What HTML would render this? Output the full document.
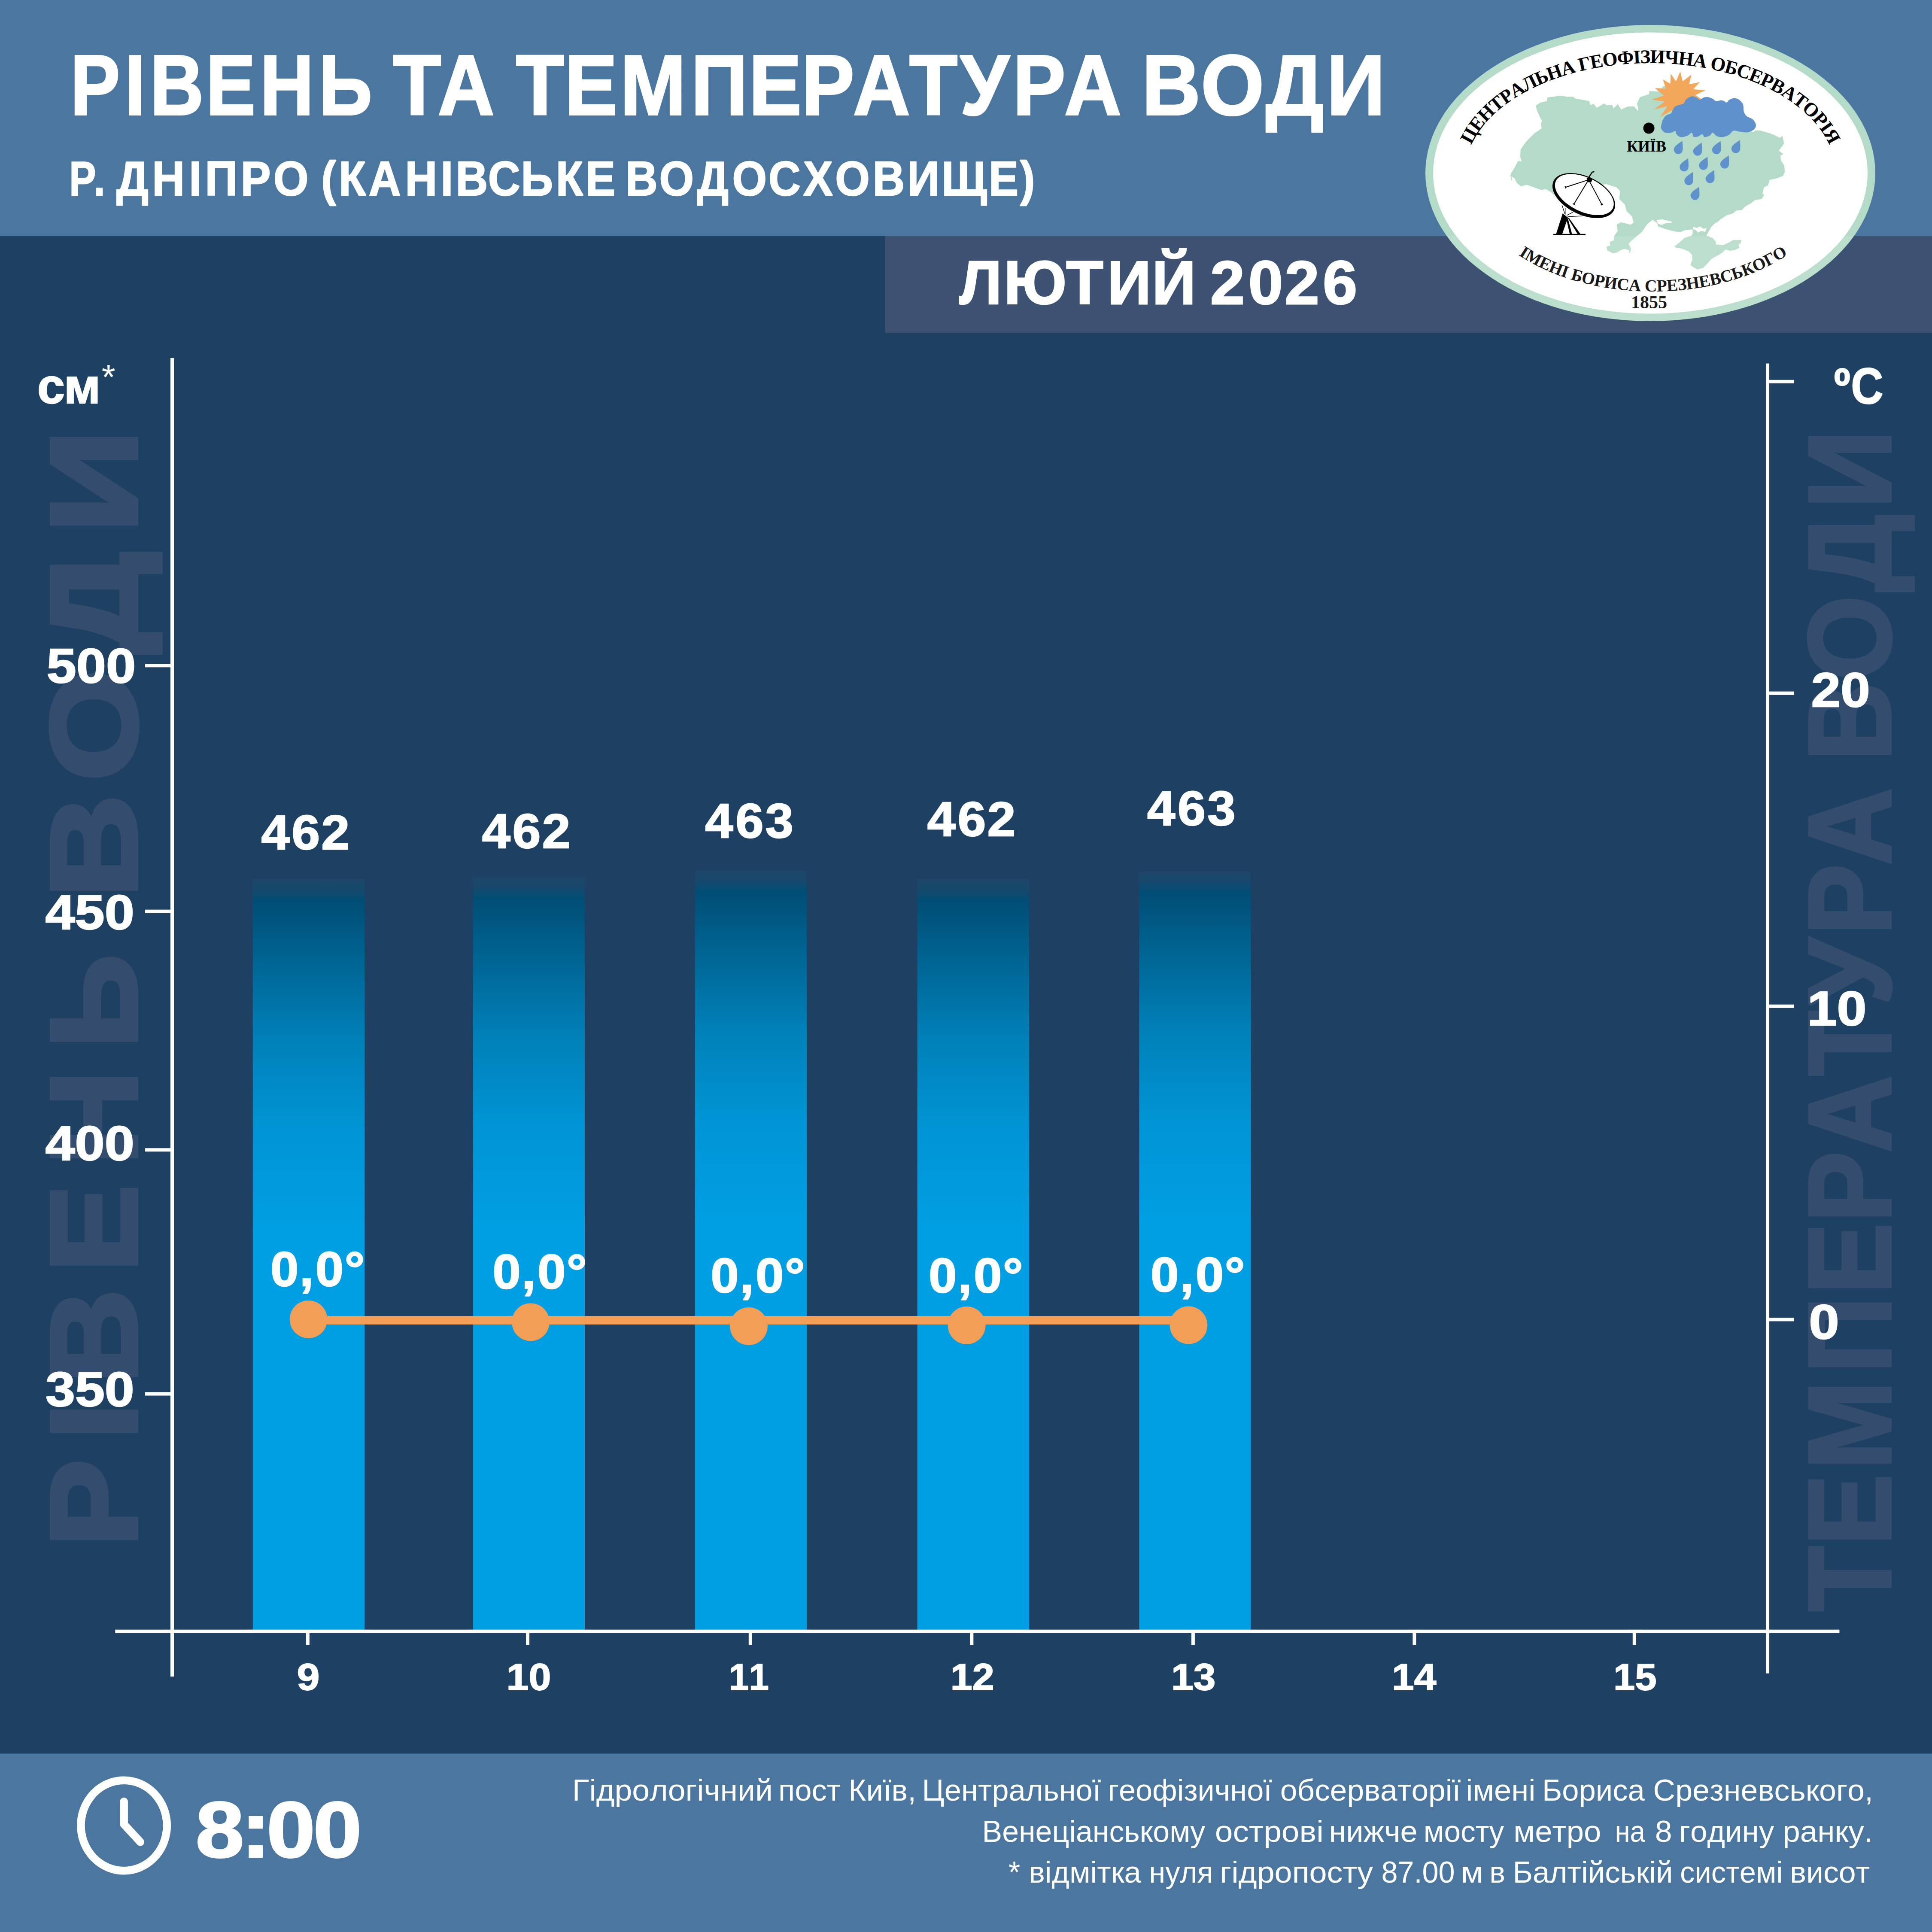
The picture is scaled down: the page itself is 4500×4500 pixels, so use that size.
<!DOCTYPE html>
<html lang="uk"><head><meta charset="utf-8"><title>Рівень та температура води</title>
<style>html,body{margin:0;padding:0;background:#1e4062}svg{display:block}text{font-kerning:none;white-space:pre}</style>
</head><body>
<svg width="4500" height="4500" viewBox="0 0 4500 4500">
<rect x="0" y="0" width="4500" height="4500" fill="#1e4062"/>
<rect x="0" y="0" width="4500" height="550" fill="#4a76a0"/>
<rect x="2062" y="550" width="2438" height="225" fill="#3d5173"/>
<rect x="0" y="4084.5" width="4500" height="415.5" fill="#4a76a0"/>
<text transform="translate(317.00 0) rotate(-90) translate(0 0.00) scale(1.0678 1)" x="-3373.58 -3139.98 -3018.02 -2774.69 -2540.86 -2286.63" font-size="284.89" font-family="Liberation Sans, sans-serif" font-weight="700" fill="#344c6e" stroke="#344c6e" stroke-width="10.00" stroke-linejoin="miter" stroke-miterlimit="2">РІВЕНЬ</text>
<text transform="translate(317.00 0) rotate(-90) translate(0 0.00) scale(1.1696 1)" x="-1788.18 -1555.40 -1301.52 -1060.94" font-size="284.89" font-family="Liberation Sans, sans-serif" font-weight="700" fill="#344c6e" stroke="#344c6e" stroke-width="10.00" stroke-linejoin="miter" stroke-miterlimit="2">ВОДИ</text>
<text transform="translate(4402.50 0) rotate(-90) translate(0 0.00) scale(0.9070 1)" x="-4137.81 -3968.10 -3773.44 -3525.94 -3322.85 -3138.90 -2959.15 -2762.48 -2580.43 -2400.82 -2220.80" font-size="272.53" font-family="Liberation Sans, sans-serif" font-weight="700" fill="#344c6e" stroke="#344c6e" stroke-width="7.00" stroke-linejoin="miter" stroke-miterlimit="2">ТЕМПЕРАТУРА</text>
<text transform="translate(4402.50 0) rotate(-90) translate(0 0.00) scale(0.9277 1)" x="-1910.42 -1707.60 -1485.98 -1276.30" font-size="272.53" font-family="Liberation Sans, sans-serif" font-weight="700" fill="#344c6e" stroke="#344c6e" stroke-width="7.00" stroke-linejoin="miter" stroke-miterlimit="2">ВОДИ</text>
<defs><linearGradient id="bg" gradientUnits="userSpaceOnUse" x1="0" y1="0" x2="0" y2="820"><stop offset="0" stop-color="#1e4669"/><stop offset="0.03" stop-color="#16486c"/><stop offset="0.0634" stop-color="#004e76"/><stop offset="0.2" stop-color="#00608d"/><stop offset="0.45" stop-color="#0080b8"/><stop offset="0.7" stop-color="#0094d4"/><stop offset="1" stop-color="#009fe3"/></linearGradient></defs>
<g transform="translate(0 2047.0)"><rect x="588.8" y="0" width="260.2" height="820" fill="url(#bg)"/></g>
<rect x="588.8" y="2866.0" width="260.2" height="930.0" fill="#009fe3"/>
<g transform="translate(0 2042.0)"><rect x="1101.8" y="0" width="260.2" height="820" fill="url(#bg)"/></g>
<rect x="1101.8" y="2861.0" width="260.2" height="935.0" fill="#009fe3"/>
<g transform="translate(0 2027.5)"><rect x="1618.6" y="0" width="260.3" height="820" fill="url(#bg)"/></g>
<rect x="1618.6" y="2846.5" width="260.3" height="949.5" fill="#009fe3"/>
<g transform="translate(0 2047.0)"><rect x="2136.6" y="0" width="260.3" height="820" fill="url(#bg)"/></g>
<rect x="2136.6" y="2866.0" width="260.3" height="930.0" fill="#009fe3"/>
<g transform="translate(0 2029.0)"><rect x="2653.4" y="0" width="259.6" height="820" fill="url(#bg)"/></g>
<rect x="2653.4" y="2848.0" width="259.6" height="948.0" fill="#009fe3"/>
<rect x="397" y="834" width="8" height="3071" fill="#fff"/>
<rect x="4113" y="846.6" width="8" height="3051" fill="#fff"/>
<rect x="268.3" y="3795.7" width="4016.1" height="8" fill="#fff"/>
<rect x="338" y="1546.3" width="60" height="8" fill="#fff"/>
<rect x="338" y="2118.7" width="60" height="8" fill="#fff"/>
<rect x="338" y="2674.3" width="60" height="8" fill="#fff"/>
<rect x="338" y="3242.6" width="60" height="8" fill="#fff"/>
<rect x="4120" y="884.8" width="58.6" height="8" fill="#fff"/>
<rect x="4120" y="1610.6" width="58.6" height="8" fill="#fff"/>
<rect x="4120" y="2339.7" width="58.6" height="8" fill="#fff"/>
<rect x="4120" y="3069.5" width="58.6" height="8" fill="#fff"/>
<rect x="712.8" y="3796" width="8" height="36" fill="#fff"/>
<rect x="1225.0" y="3796" width="8" height="36" fill="#fff"/>
<rect x="1743.8" y="3796" width="8" height="36" fill="#fff"/>
<rect x="2259.3" y="3796" width="8" height="36" fill="#fff"/>
<rect x="2774.9" y="3796" width="8" height="36" fill="#fff"/>
<rect x="3290.4" y="3796" width="8" height="36" fill="#fff"/>
<rect x="3802.8" y="3796" width="8" height="36" fill="#fff"/>
<rect x="718" y="3065" width="2050" height="20" fill="#f29e57"/>
<circle cx="718.6" cy="3073.0" r="44" fill="#f29e57"/>
<circle cx="1236.0" cy="3079.5" r="44" fill="#f29e57"/>
<circle cx="1744.0" cy="3089.0" r="44" fill="#f29e57"/>
<circle cx="2251.6" cy="3087.0" r="44" fill="#f29e57"/>
<circle cx="2768.4" cy="3086.5" r="44" fill="#f29e57"/>
<text transform="translate(0 267.00) scale(0.8699 1)" x="188.61 333.85 401.65 551.45 696.29 853.55" font-size="198.84" font-family="Liberation Sans, sans-serif" font-weight="700" fill="#fff" stroke="#fff" stroke-width="4.00" stroke-linejoin="miter" stroke-miterlimit="2">РІВЕНЬ</text>
<text transform="translate(0 267.00) scale(0.9180 1)" x="997.61 1110.97" font-size="198.84" font-family="Liberation Sans, sans-serif" font-weight="700" fill="#fff" stroke="#fff" stroke-width="4.00" stroke-linejoin="miter" stroke-miterlimit="2">ТА</text>
<text transform="translate(0 267.00) scale(0.9239 1)" x="1300.74 1423.62 1563.53 1742.14 1888.00 2021.13 2150.65 2292.46 2420.05 2553.52 2683.06" font-size="198.84" font-family="Liberation Sans, sans-serif" font-weight="700" fill="#fff" stroke="#fff" stroke-width="4.00" stroke-linejoin="miter" stroke-miterlimit="2">ТЕМПЕРАТУРА</text>
<text transform="translate(0 267.00) scale(0.9509 1)" x="2797.16 2941.79 3100.31 3249.86" font-size="198.84" font-family="Liberation Sans, sans-serif" font-weight="700" fill="#fff" stroke="#fff" stroke-width="4.00" stroke-linejoin="miter" stroke-miterlimit="2">ВОДИ</text>
<text transform="translate(0 455.30) scale(0.8239 1)" x="195.59 265.56" font-size="113.37" font-family="Liberation Sans, sans-serif" font-weight="700" fill="#fff" stroke="#fff" stroke-width="2.40" stroke-linejoin="miter" stroke-miterlimit="2">Р.</text>
<text transform="translate(0 455.30) scale(0.9278 1)" x="292.21 381.77 474.41 514.76 604.08 686.42" font-size="113.37" font-family="Liberation Sans, sans-serif" font-weight="700" fill="#fff" stroke="#fff" stroke-width="2.40" stroke-linejoin="miter" stroke-miterlimit="2">ДНІПРО</text>
<text transform="translate(0 455.30) scale(0.9145 1)" x="818.27 862.77 938.94 1031.74 1122.49 1160.66 1243.05 1327.03 1415.75 1491.53" font-size="113.37" font-family="Liberation Sans, sans-serif" font-weight="700" fill="#fff" stroke="#fff" stroke-width="2.40" stroke-linejoin="miter" stroke-miterlimit="2">(КАНІВСЬКЕ</text>
<text transform="translate(0 455.30) scale(0.9133 1)" x="1595.32 1681.34 1777.38 1867.41 1959.90 2048.34 2130.02 2225.59 2314.09 2401.59 2521.59 2601.62" font-size="113.37" font-family="Liberation Sans, sans-serif" font-weight="700" fill="#fff" stroke="#fff" stroke-width="2.40" stroke-linejoin="miter" stroke-miterlimit="2">ВОДОСХОВИЩЕ)</text>
<text transform="translate(0 708.10) scale(0.9938 1)" x="2248.04 2352.84 2498.81 2595.27 2700.30" font-size="142.44" font-family="Liberation Sans, sans-serif" font-weight="700" fill="#fff" stroke="#fff" stroke-width="3.00" stroke-linejoin="miter" stroke-miterlimit="2">ЛЮТИЙ</text>
<text transform="translate(0 708.10) scale(1.0145 1)" x="2778.53 2866.27 2949.83 3036.93" font-size="142.44" font-family="Liberation Sans, sans-serif" font-weight="700" fill="#fff" stroke="#fff" stroke-width="3.00" stroke-linejoin="miter" stroke-miterlimit="2">2026</text>
<text transform="translate(0 938.80) scale(1.0086 1)" x="86.04 147.60" font-size="114.70" font-family="Liberation Sans, sans-serif" font-weight="700" fill="#fff" stroke="#fff" stroke-width="2.40" stroke-linejoin="miter" stroke-miterlimit="2">см</text>
<text transform="translate(236.67 905.70) scale(1.0155 1)" font-size="81.00" font-family="Liberation Sans, sans-serif" font-weight="400" fill="#fff">*</text>
<text transform="translate(108.49 1589.80) scale(1.1009 1)" font-size="113.13" font-family="Liberation Sans, sans-serif" font-weight="700" fill="#fff" stroke="#fff" stroke-width="2.40" stroke-linejoin="miter" stroke-miterlimit="2">500</text>
<text transform="translate(105.44 2163.80) scale(1.0984 1)" font-size="113.13" font-family="Liberation Sans, sans-serif" font-weight="700" fill="#fff" stroke="#fff" stroke-width="2.40" stroke-linejoin="miter" stroke-miterlimit="2">450</text>
<text transform="translate(105.44 2702.20) scale(1.0984 1)" font-size="113.13" font-family="Liberation Sans, sans-serif" font-weight="700" fill="#fff" stroke="#fff" stroke-width="2.40" stroke-linejoin="miter" stroke-miterlimit="2">400</text>
<text transform="translate(105.97 3274.80) scale(1.0956 1)" font-size="113.13" font-family="Liberation Sans, sans-serif" font-weight="700" fill="#fff" stroke="#fff" stroke-width="2.40" stroke-linejoin="miter" stroke-miterlimit="2">350</text>
<text transform="translate(0 939.80) scale(0.8831 1)" x="4836.84 4882.07" font-size="118.00" font-family="Liberation Sans, sans-serif" font-weight="700" fill="#fff" stroke="#fff" stroke-width="2.20" stroke-linejoin="miter" stroke-miterlimit="2">ºC</text>
<text transform="translate(4218.53 1646.00) scale(1.0904 1)" font-size="113.13" font-family="Liberation Sans, sans-serif" font-weight="700" fill="#fff" stroke="#fff" stroke-width="2.40" stroke-linejoin="miter" stroke-miterlimit="2">20</text>
<text transform="translate(4209.50 2387.80) scale(1.0972 1)" font-size="113.13" font-family="Liberation Sans, sans-serif" font-weight="700" fill="#fff" stroke="#fff" stroke-width="2.40" stroke-linejoin="miter" stroke-miterlimit="2">10</text>
<text transform="translate(4213.33 3117.50) scale(1.1209 1)" font-size="113.13" font-family="Liberation Sans, sans-serif" font-weight="700" fill="#fff" stroke="#fff" stroke-width="2.40" stroke-linejoin="miter" stroke-miterlimit="2">0</text>
<text transform="translate(0 1978.30) scale(1.0488 1)" x="580.13 647.60 713.51" font-size="113.13" font-family="Liberation Sans, sans-serif" font-weight="700" fill="#fff" stroke="#fff" stroke-width="2.40" stroke-linejoin="miter" stroke-miterlimit="2">462</text>
<text transform="translate(0 1975.30) scale(1.0488 1)" x="1070.48 1137.95 1203.86" font-size="113.13" font-family="Liberation Sans, sans-serif" font-weight="700" fill="#fff" stroke="#fff" stroke-width="2.40" stroke-linejoin="miter" stroke-miterlimit="2">462</text>
<text transform="translate(0 1951.30) scale(1.0385 1)" x="1581.50 1649.67 1716.50" font-size="113.13" font-family="Liberation Sans, sans-serif" font-weight="700" fill="#fff" stroke="#fff" stroke-width="2.40" stroke-linejoin="miter" stroke-miterlimit="2">463</text>
<text transform="translate(0 1947.30) scale(1.0488 1)" x="2059.19 2126.65 2192.57" font-size="113.13" font-family="Liberation Sans, sans-serif" font-weight="700" fill="#fff" stroke="#fff" stroke-width="2.40" stroke-linejoin="miter" stroke-miterlimit="2">462</text>
<text transform="translate(0 1922.30) scale(1.0385 1)" x="2572.96 2641.13 2707.96" font-size="113.13" font-family="Liberation Sans, sans-serif" font-weight="700" fill="#fff" stroke="#fff" stroke-width="2.40" stroke-linejoin="miter" stroke-miterlimit="2">463</text>
<text transform="translate(0 2995.30) scale(1.0402 1)" x="605.55 670.83 706.27 771.40" font-size="113.13" font-family="Liberation Sans, sans-serif" font-weight="700" fill="#fff" stroke="#fff" stroke-width="2.40" stroke-linejoin="miter" stroke-miterlimit="2">0,0°</text>
<text transform="translate(0 3001.30) scale(1.0402 1)" x="1102.84 1168.11 1203.55 1268.69" font-size="113.13" font-family="Liberation Sans, sans-serif" font-weight="700" fill="#fff" stroke="#fff" stroke-width="2.40" stroke-linejoin="miter" stroke-miterlimit="2">0,0°</text>
<text transform="translate(0 3009.80) scale(1.0402 1)" x="1591.18 1656.46 1691.90 1757.03" font-size="113.13" font-family="Liberation Sans, sans-serif" font-weight="700" fill="#fff" stroke="#fff" stroke-width="2.40" stroke-linejoin="miter" stroke-miterlimit="2">0,0°</text>
<text transform="translate(0 3009.80) scale(1.0402 1)" x="2079.53 2144.80 2180.24 2245.38" font-size="113.13" font-family="Liberation Sans, sans-serif" font-weight="700" fill="#fff" stroke="#fff" stroke-width="2.40" stroke-linejoin="miter" stroke-miterlimit="2">0,0°</text>
<text transform="translate(0 3007.80) scale(1.0402 1)" x="2576.52 2641.80 2677.24 2742.37" font-size="113.13" font-family="Liberation Sans, sans-serif" font-weight="700" fill="#fff" stroke="#fff" stroke-width="2.40" stroke-linejoin="miter" stroke-miterlimit="2">0,0°</text>
<text transform="translate(691.48 3936.10) scale(1.0952 1)" font-size="87.15" font-family="Liberation Sans, sans-serif" font-weight="700" fill="#fff" stroke="#fff" stroke-width="1.80" stroke-linejoin="miter" stroke-miterlimit="2">9</text>
<text transform="translate(1179.47 3936.10) scale(1.0739 1)" font-size="87.15" font-family="Liberation Sans, sans-serif" font-weight="700" fill="#fff" stroke="#fff" stroke-width="1.80" stroke-linejoin="miter" stroke-miterlimit="2">10</text>
<text transform="translate(1698.11 3936.10) scale(0.9569 1)" font-size="87.15" font-family="Liberation Sans, sans-serif" font-weight="700" fill="#fff" stroke="#fff" stroke-width="1.80" stroke-linejoin="miter" stroke-miterlimit="2">11</text>
<text transform="translate(2213.77 3936.10) scale(1.0518 1)" font-size="87.15" font-family="Liberation Sans, sans-serif" font-weight="700" fill="#fff" stroke="#fff" stroke-width="1.80" stroke-linejoin="miter" stroke-miterlimit="2">12</text>
<text transform="translate(2728.11 3936.10) scale(1.0655 1)" font-size="87.15" font-family="Liberation Sans, sans-serif" font-weight="700" fill="#fff" stroke="#fff" stroke-width="1.80" stroke-linejoin="miter" stroke-miterlimit="2">13</text>
<text transform="translate(3242.10 3936.10) scale(1.0671 1)" font-size="87.15" font-family="Liberation Sans, sans-serif" font-weight="700" fill="#fff" stroke="#fff" stroke-width="1.80" stroke-linejoin="miter" stroke-miterlimit="2">14</text>
<text transform="translate(3757.93 3936.10) scale(1.0383 1)" font-size="87.15" font-family="Liberation Sans, sans-serif" font-weight="700" fill="#fff" stroke="#fff" stroke-width="1.80" stroke-linejoin="miter" stroke-miterlimit="2">15</text>
<ellipse cx="288.6" cy="4252" rx="100.2" ry="105.2" fill="none" stroke="#fff" stroke-width="18.6"/>
<path d="M288.6 4196 L288.6 4249 L327 4290.5" fill="none" stroke="#fff" stroke-width="18.6" stroke-linecap="round" stroke-linejoin="round"/>
<text transform="translate(0 4325.10) scale(1.1002 1)" x="414.15 510.76 564.76 663.27" font-size="183.90" font-family="Liberation Sans, sans-serif" font-weight="700" fill="#fff" stroke="#fff" stroke-width="3.80" stroke-linejoin="miter" stroke-miterlimit="2">8:00</text>
<text y="4194.00" font-size="70.00" font-family="Liberation Sans, sans-serif" font-weight="400" fill="#fff"><tspan x="1332.79" textLength="467.09" lengthAdjust="spacingAndGlyphs">Гідрологічний</tspan> <tspan x="1813.01" textLength="145.00" lengthAdjust="spacingAndGlyphs">пост</tspan> <tspan x="1976.20" textLength="157.66" lengthAdjust="spacingAndGlyphs">Київ,</tspan> <tspan x="2147.51" textLength="416.98" lengthAdjust="spacingAndGlyphs">Центральної</tspan> <tspan x="2580.43" textLength="382.25" lengthAdjust="spacingAndGlyphs">геофізичної</tspan> <tspan x="2981.71" textLength="420.69" lengthAdjust="spacingAndGlyphs">обсерваторії</tspan> <tspan x="3414.15" textLength="162.33" lengthAdjust="spacingAndGlyphs">імені</tspan> <tspan x="3591.91" textLength="238.79" lengthAdjust="spacingAndGlyphs">Бориса</tspan> <tspan x="3850.36" textLength="512.59" lengthAdjust="spacingAndGlyphs">Срезневського,</tspan></text>
<text y="4289.50" font-size="70.00" font-family="Liberation Sans, sans-serif" font-weight="400" fill="#fff"><tspan x="2287.57" textLength="519.57" lengthAdjust="spacingAndGlyphs">Венеціанському</tspan> <tspan x="2829.76" textLength="253.09" lengthAdjust="spacingAndGlyphs">острові</tspan> <tspan x="3095.50" textLength="206.21" lengthAdjust="spacingAndGlyphs">нижче</tspan> <tspan x="3315.79" textLength="187.55" lengthAdjust="spacingAndGlyphs">мосту</tspan> <tspan x="3525.37" textLength="204.07" lengthAdjust="spacingAndGlyphs">метро</tspan>  <tspan x="3761.39" textLength="70.51" lengthAdjust="spacingAndGlyphs">на</tspan> <tspan x="3854.89" textLength="39.82" lengthAdjust="spacingAndGlyphs">8</tspan> <tspan x="3911.08" textLength="221.26" lengthAdjust="spacingAndGlyphs">годину</tspan> <tspan x="4152.31" textLength="209.74" lengthAdjust="spacingAndGlyphs">ранку.</tspan></text>
<text y="4384.80" font-size="70.00" font-family="Liberation Sans, sans-serif" font-weight="400" fill="#fff"><tspan x="2348.85" textLength="27.66" lengthAdjust="spacingAndGlyphs">*</tspan> <tspan x="2396.29" textLength="261.71" lengthAdjust="spacingAndGlyphs">відмітка</tspan> <tspan x="2676.24" textLength="149.52" lengthAdjust="spacingAndGlyphs">нуля</tspan> <tspan x="2841.29" textLength="356.86" lengthAdjust="spacingAndGlyphs">гідропосту</tspan> <tspan x="3217.43" textLength="171.25" lengthAdjust="spacingAndGlyphs">87.00</tspan> <tspan x="3402.17" textLength="52.82" lengthAdjust="spacingAndGlyphs">м</tspan> <tspan x="3469.19" textLength="36.82" lengthAdjust="spacingAndGlyphs">в</tspan> <tspan x="3523.50" textLength="373.01" lengthAdjust="spacingAndGlyphs">Балтійській</tspan> <tspan x="3913.08" textLength="239.35" lengthAdjust="spacingAndGlyphs">системі</tspan> <tspan x="4168.93" textLength="186.49" lengthAdjust="spacingAndGlyphs">висот</tspan></text>
<g id="logo">
<ellipse cx="3844" cy="403" rx="524" ry="345" fill="#b4dbc8"/>
<ellipse cx="3844" cy="403" rx="506" ry="327.5" fill="#fff"/>
<path d="M3520.5 420.0 L3520.0 403.6 L3525.0 396.0 L3530.0 387.0 L3536.0 375.7 L3544.7 376.6 L3541.4 364.5 L3542.5 347.7 L3556.0 329.0 L3574.5 310.4 L3591.3 299.3 L3589.4 286.2 L3593.0 283.4 L3585.7 269.4 L3580.0 256.4 L3577.9 246.0 L3587.6 239.6 L3603.4 235.9 L3604.3 227.5 L3619.3 225.7 L3634.0 223.2 L3649.0 225.7 L3664.0 225.7 L3669.6 230.3 L3686.0 233.0 L3701.0 236.0 L3704.0 245.0 L3712.0 242.4 L3719.0 251.7 L3736.6 241.5 L3742.0 246.0 L3755.0 245.0 L3758.0 253.6 L3768.0 243.0 L3775.8 255.5 L3790.7 249.0 L3805.6 248.0 L3815.0 259.0 L3816.8 252.7 L3813.0 241.5 L3820.5 226.6 L3841.0 220.0 L3842.0 212.6 L3862.0 213.5 L3875.4 200.5 L3883.0 200.5 L3900.0 205.0 L3940.0 215.0 L3990.0 250.0 L4040.0 290.0 L4084.0 308.6 L4089.7 304.0 L4101.0 304.8 L4117.6 309.5 L4130.7 314.0 L4145.6 321.6 L4151.0 317.0 L4155.0 334.7 L4147.5 344.0 L4142.8 351.4 L4153.0 358.9 L4146.5 361.7 L4147.5 373.8 L4155.0 385.0 L4156.8 400.0 L4154.9 404.0 L4153.0 409.3 L4138.0 415.0 L4121.4 418.6 L4117.6 431.7 L4108.3 435.4 L4104.6 450.3 L4108.3 454.0 L4102.7 463.4 L4087.8 465.2 L4078.5 472.7 L4065.5 480.0 L4056.0 489.4 L4045.0 489.4 L4035.7 496.9 L4022.6 500.6 L4007.7 510.0 L4002.0 515.5 L3992.8 521.0 L3985.3 528.6 L3977.9 541.6 L3974.0 549.0 L3989.0 554.7 L3996.5 564.0 L3994.7 569.6 L4013.3 571.4 L4026.0 565.8 L4037.5 559.3 L4056.0 559.3 L4054.3 565.8 L4048.7 569.6 L4050.6 577.0 L4041.0 581.7 L4030.0 583.5 L4018.9 580.7 L4011.4 588.2 L3998.4 595.7 L3985.3 603.0 L3976.0 614.3 L3966.7 623.6 L3953.7 627.3 L3944.3 621.7 L3937.8 617.0 L3942.5 605.0 L3941.6 593.8 L3933.0 584.5 L3918.3 578.9 L3899.6 575.2 L3910.8 565.8 L3923.9 554.7 L3940.6 549.0 L3943.4 543.5 L3942.5 534.0 L3936.9 534.0 L3923.9 536.0 L3914.5 539.8 L3901.5 538.8 L3882.9 534.0 L3871.7 530.4 L3862.4 526.7 L3860.5 519.3 L3849.3 511.8 L3848.5 511.8 L3835.4 523.0 L3824.0 539.8 L3813.0 549.0 L3801.9 558.4 L3792.6 567.7 L3798.0 578.9 L3796.3 589.0 L3794.4 582.6 L3785.0 578.9 L3773.9 582.6 L3764.6 588.2 L3755.3 589.0 L3744.0 582.6 L3742.2 575.2 L3751.6 571.4 L3749.7 564.0 L3759.0 560.3 L3760.9 549.0 L3768.3 537.9 L3766.5 523.0 L3775.8 518.3 L3787.0 521.0 L3798.0 523.9 L3805.6 519.3 L3801.9 504.4 L3788.8 491.3 L3785.0 476.4 L3772.0 463.4 L3774.0 444.7 L3764.6 435.4 L3751.6 431.7 L3740.4 428.0 L3700.0 440.0 L3650.0 452.0 L3619.3 453.0 L3611.8 446.6 L3600.6 440.0 L3589.4 442.0 L3574.5 436.3 L3556.0 429.8 L3543.0 433.5 L3533.5 426.0 L3528.0 415.0 L3518.6 408.4 Z" fill="#b4dbc8" stroke="#b4dbc8" stroke-width="1" stroke-linejoin="round"/>
<path d="M3858 512 L3872 511 L3893 516 L3894 519 L3880 520 L3870 524 L3862 521 Z" fill="#fff"/>
<path d="M3944 528 L3952 531 L3960 527 L3968 533 L3975 531 L3972 540 L3962 538 L3955 542 L3950 536 L3944 534 Z" fill="#fff"/>
<path d="M3854.8 205.0 L3880.2 206.8 L3873.3 184.9 L3890.6 195.2 L3891.2 171.6 L3903.7 189.4 L3913.5 166.5 L3919.3 189.4 L3939.6 173.8 L3934.2 196.5 L3959.0 191.2 L3943.5 208.1 L3972.6 210.1 L3947.4 221.9 L3972.4 236.3 L3945.3 236.8 L3962.3 260.1 L3937.4 249.5 L3943.4 277.6 L3925.0 257.9 L3919.1 286.0 L3909.9 260.5 L3892.0 284.4 L3894.9 256.4 L3867.2 272.0 L3883.9 247.6 L3852.7 254.5 L3877.6 236.6 L3847.3 231.7 L3875.6 222.4 Z" fill="#f2a75a"/>
<circle cx="3911.5" cy="224.5" r="37" fill="#f2a75a"/>
<path d="M3868.9 295.5 C3869.2 292.0 3870.7 285.0 3872.6 280.6 C3874.5 276.3 3876.8 272.2 3880.1 269.4 C3883.3 266.6 3889.4 266.3 3892.2 263.9 C3895.0 261.4 3895.0 257.3 3896.8 254.5 C3898.7 251.7 3900.4 248.9 3903.4 247.1 C3906.3 245.2 3911.4 244.4 3914.5 243.4 C3917.6 242.3 3919.8 242.6 3922.0 240.6 C3924.2 238.5 3924.5 233.9 3927.6 231.2 C3930.7 228.5 3936.6 225.0 3940.6 224.3 C3944.7 223.7 3948.7 226.2 3951.8 227.5 C3954.9 228.8 3956.5 232.2 3959.3 232.2 C3962.1 232.1 3965.5 228.1 3968.6 227.1 C3971.7 226.2 3974.5 225.7 3977.9 226.2 C3981.3 226.7 3985.8 228.3 3989.1 229.9 C3992.3 231.6 3994.4 235.3 3997.5 235.9 C4000.6 236.5 4004.8 233.6 4007.7 233.5 C4010.7 233.4 4012.8 234.3 4015.2 235.2 C4017.5 236.0 4019.5 239.2 4021.7 238.7 C4023.9 238.2 4025.3 233.8 4028.2 232.2 C4031.2 230.5 4035.7 228.8 4039.4 228.8 C4043.1 228.8 4047.1 229.8 4050.6 232.2 C4054.0 234.6 4058.0 238.7 4059.9 243.4 C4061.7 248.0 4060.3 255.6 4061.7 260.1 C4063.1 264.6 4064.9 267.4 4068.3 270.4 C4071.7 273.3 4078.7 274.6 4082.2 277.8 C4085.8 281.1 4089.1 286.1 4089.7 289.9 C4090.3 293.8 4089.1 298.1 4086.0 301.1 C4082.9 304.2 4076.3 307.2 4071.1 308.2 C4065.8 309.2 4059.9 307.7 4054.3 307.1 C4048.7 306.5 4041.9 303.5 4037.5 304.5 C4033.2 305.5 4032.2 310.8 4028.2 313.2 C4024.2 315.7 4018.1 318.5 4013.3 319.2 C4008.5 319.9 4003.4 319.0 3999.3 317.3 C3995.3 315.6 3991.9 309.2 3989.1 308.9 C3986.3 308.7 3985.7 313.9 3982.6 315.7 C3979.4 317.4 3973.4 319.7 3970.4 319.2 C3967.5 318.7 3967.5 312.8 3964.8 312.7 C3962.2 312.5 3958.0 317.4 3954.6 318.3 C3951.2 319.1 3946.7 319.4 3944.4 317.9 C3942.0 316.3 3943.1 309.2 3940.6 308.9 C3938.1 308.7 3933.8 314.7 3929.4 316.4 C3925.1 318.1 3918.6 319.8 3914.5 319.2 C3910.5 318.6 3907.2 315.0 3905.2 312.7 C3903.2 310.3 3904.6 305.8 3902.4 305.2 C3900.2 304.6 3896.2 308.3 3892.2 308.9 C3888.1 309.6 3881.8 310.1 3878.2 308.9 C3874.6 307.8 3872.3 304.3 3870.7 302.1 C3869.2 299.8 3868.6 299.1 3868.9 295.5 Z" fill="#5f92cd"/>
<path d="M3918.5 328.1 C3912.5 333.1 3899.2 339.3 3898.7 348.6 A10.3 10.3 0 1 0 3919.3 348.6 C3919.8 341.4 3919.0 336.1 3918.5 328.1 Z" fill="#5f92cd"/>
<path d="M3963.5 332.0 C3957.5 337.0 3944.2 343.2 3943.7 352.5 A10.3 10.3 0 1 0 3964.3 352.5 C3964.8 345.3 3964.0 340.0 3963.5 332.0 Z" fill="#5f92cd"/>
<path d="M4007.5 328.5 C4001.5 333.5 3988.2 339.7 3987.7 349.0 A10.3 10.3 0 1 0 4008.3 349.0 C4008.8 341.8 4008.0 336.5 4007.5 328.5 Z" fill="#5f92cd"/>
<path d="M4052.5 326.0 C4046.5 331.0 4033.2 337.2 4032.7 346.5 A10.3 10.3 0 1 0 4053.3 346.5 C4053.8 339.3 4053.0 334.0 4052.5 326.0 Z" fill="#5f92cd"/>
<path d="M3932.0 368.5 C3926.0 373.5 3912.7 379.7 3912.2 389.0 A10.3 10.3 0 1 0 3932.8 389.0 C3933.3 381.8 3932.5 376.5 3932.0 368.5 Z" fill="#5f92cd"/>
<path d="M3977.0 365.0 C3971.0 370.0 3957.7 376.2 3957.2 385.5 A10.3 10.3 0 1 0 3977.8 385.5 C3978.3 378.3 3977.5 373.0 3977.0 365.0 Z" fill="#5f92cd"/>
<path d="M4026.5 362.0 C4020.5 367.0 4007.2 373.2 4006.7 382.5 A10.3 10.3 0 1 0 4027.3 382.5 C4027.8 375.3 4027.0 370.0 4026.5 362.0 Z" fill="#5f92cd"/>
<path d="M3943.0 400.5 C3937.0 405.5 3923.7 411.7 3923.2 421.0 A10.3 10.3 0 1 0 3943.8 421.0 C3944.3 413.8 3943.5 408.5 3943.0 400.5 Z" fill="#5f92cd"/>
<path d="M3992.5 396.0 C3986.5 401.0 3973.2 407.2 3972.7 416.5 A10.3 10.3 0 1 0 3993.3 416.5 C3993.8 409.3 3993.0 404.0 3992.5 396.0 Z" fill="#5f92cd"/>
<path d="M3957.5 435.0 C3951.5 440.0 3938.2 446.2 3937.7 455.5 A10.3 10.3 0 1 0 3958.3 455.5 C3958.8 448.3 3958.0 443.0 3957.5 435.0 Z" fill="#5f92cd"/>
<circle cx="3840.5" cy="298.5" r="13" fill="#000"/>
<g transform="translate(3689 455.5) rotate(25.7)"><ellipse rx="78.2" ry="44.5" fill="#000"/><ellipse cx="0.2" cy="-2.6" rx="73.6" ry="39.6" fill="#fff"/></g>
<line x1="3700.3" y1="418.6" x2="3646.3" y2="436.3" stroke="#000" stroke-width="2"/>
<line x1="3647.1" y1="438.8" x2="3645.5" y2="433.8" stroke="#000" stroke-width="2.4"/>
<line x1="3700.3" y1="418.6" x2="3665.8" y2="475.5" stroke="#000" stroke-width="2"/>
<line x1="3668.0" y1="476.8" x2="3663.6" y2="474.2" stroke="#000" stroke-width="2.4"/>
<line x1="3700.3" y1="418.6" x2="3731.0" y2="476.4" stroke="#000" stroke-width="2"/>
<line x1="3733.3" y1="475.2" x2="3728.7" y2="477.6" stroke="#000" stroke-width="2.4"/>
<path d="M3695.5 414.5 L3703 412 L3709 417.5 L3706.5 424 L3697.5 424.5 Z" fill="#000"/>
<path d="M3700 414 L3708.5 401 L3712.5 400" fill="none" stroke="#000" stroke-width="2.4" stroke-linecap="round" stroke-linejoin="round"/>
<path d="M3639.8 496.9 L3651.9 507.1 L3638.8 545.0 L3624.5 545.0 Z" fill="#000"/>
<path d="M3648.1 509.0 L3651.9 509.0 L3661.6 545.0 L3656.2 545.0 Z" fill="#000"/>
<path d="M3650.6 505.8 L3655.0 508.4 L3681.1 545.0 L3674.4 545.0 Z" fill="#000"/>
<rect x="3618" y="544.8" width="75" height="3" fill="#000"/>
<line x1="3638.3" y1="478.3" x2="3645.0" y2="498.4" stroke="#000" stroke-width="1.4"/>
<line x1="3647.2" y1="484.2" x2="3647.2" y2="499.7" stroke="#000" stroke-width="1.4"/>
<line x1="3664.0" y1="494.1" x2="3649.1" y2="501.6" stroke="#000" stroke-width="1.4"/>
<line x1="3686.3" y1="502.9" x2="3651.3" y2="504.7" stroke="#000" stroke-width="1.4"/>
<path id="lp1" d="M3427.00 338.28 A431.0 256.0 0 0 1 4261.00 338.28" fill="none"/><text font-size="45.0" font-family="Liberation Serif, serif" font-weight="700" fill="#000" letter-spacing="-1.480"><textPath href="#lp1" startOffset="0">ЦЕНТРАЛЬНА ГЕОФІЗИЧНА ОБСЕРВАТОРІЯ</textPath></text>
<path id="lp2" d="M3537.00 594.19 A434.0 276.0 0 0 0 4164.00 593.53" fill="none"/><text font-size="39.5" font-family="Liberation Serif, serif" font-weight="700" fill="#000" letter-spacing="-0.321"><textPath href="#lp2" startOffset="0">ІМЕНІ БОРИСА СРЕЗНЕВСЬКОГО</textPath></text>
<text x="3841" y="718" font-size="42" font-family="Liberation Serif, serif" font-weight="700" fill="#000" text-anchor="middle">1855</text>
<text x="3835" y="353" font-size="36" font-family="Liberation Serif, serif" font-weight="700" fill="#000" text-anchor="middle">КИЇВ</text>
<clipPath id="lgc"><ellipse cx="3844" cy="403" rx="524" ry="345"/></clipPath><rect x="3300" y="549.5" width="1100" height="210" fill="#fff" opacity="0.1" clip-path="url(#lgc)"/>
</g>
</svg>
</body></html>
